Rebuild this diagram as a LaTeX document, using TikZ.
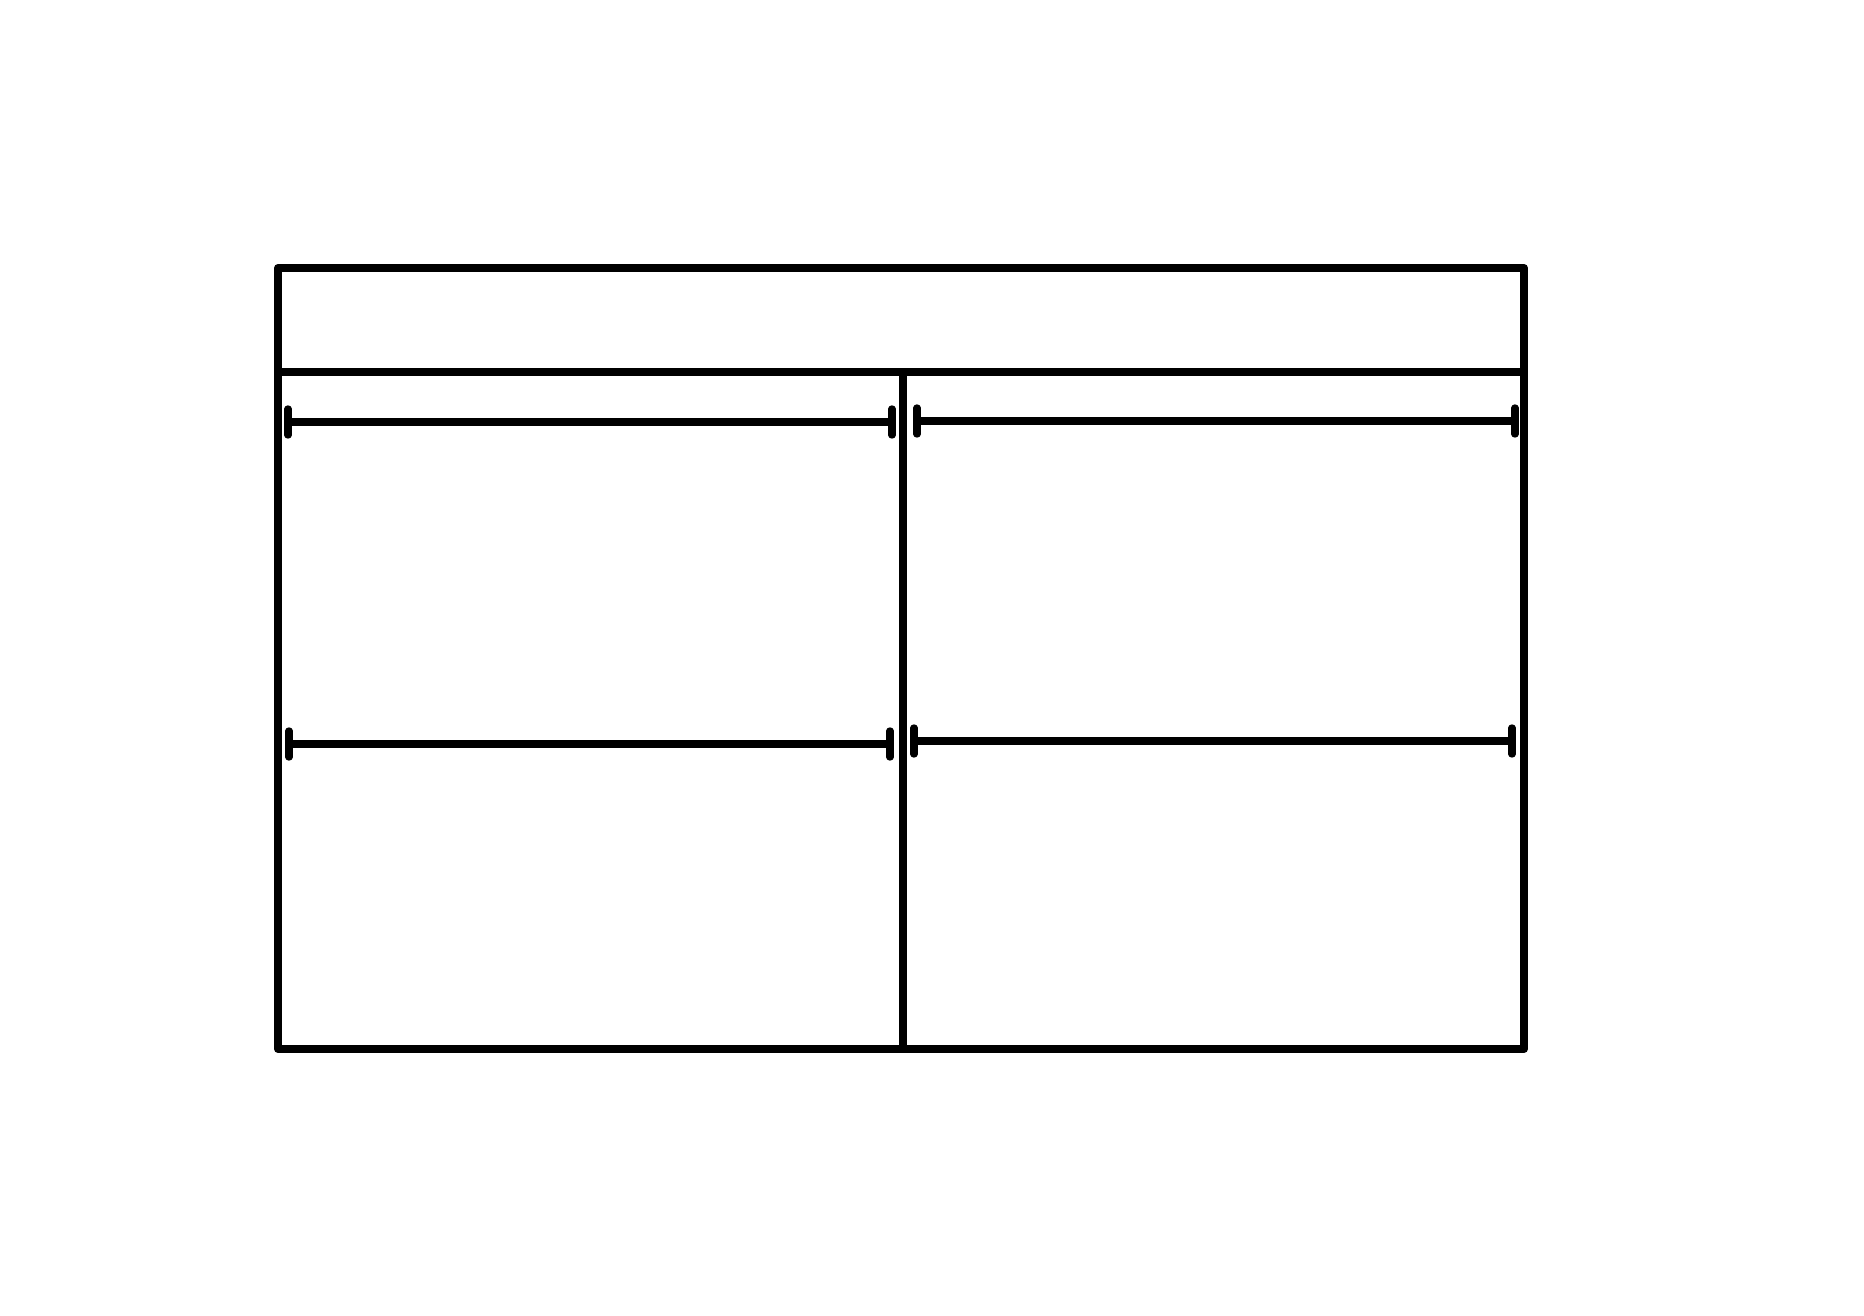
\documentclass[tikz,border=0pt]{standalone}
\begin{document}
\begin{tikzpicture}[x=0.01cm,y=-0.01cm,
  wall/.style={line width=2.3pt,line join=round},
  rail/.style={line width=2pt},
  railend/.style={line width=2.1pt,line cap=round}]
  \useasboundingbox (0,0) rectangle (1864,1316);
  \coordinate (nw) at (278,268);
  \coordinate (se) at (1524,1049);
  \coordinate (shelfL) at (278,372);
  \coordinate (shelfR) at (1524,372);
  \coordinate (midT) at (903,372);
  \coordinate (midB) at (903,1049);
  \draw[wall] (nw) rectangle (se);
  \draw[wall] (shelfL) -- (shelfR);
  \draw[wall] (midT) -- (midB);
  % hanging rails
  \foreach \xa/\xb/\y in {288/892/422, 917/1515/421, 289/890/744, 914/1512/741}{
    \draw[rail] (\xa,\y) -- (\xb,\y);
    \draw[railend] (\xa,\y-13) -- (\xa,\y+13);
    \draw[railend] (\xb,\y-13) -- (\xb,\y+13);
  }
\end{tikzpicture}
\end{document}
